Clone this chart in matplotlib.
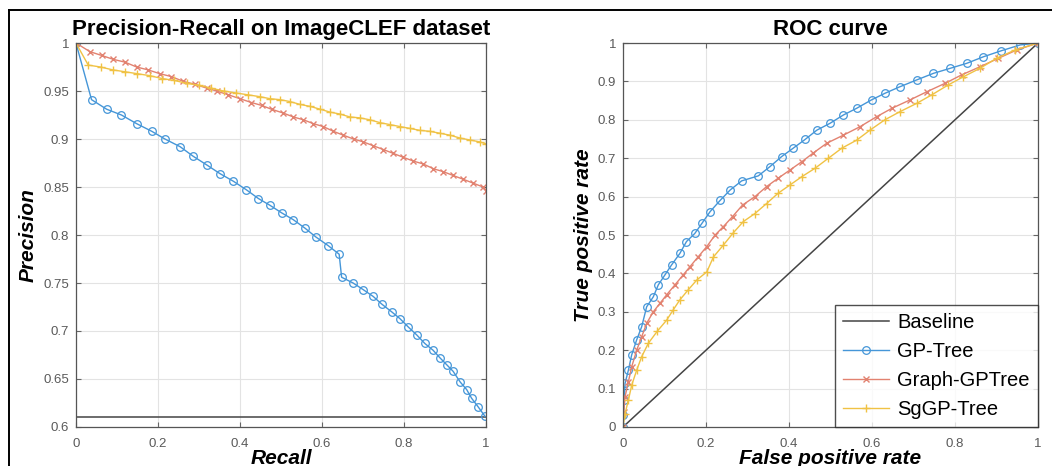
import matplotlib
matplotlib.use("Agg")
from matplotlib import pyplot
from matplotlib.lines import Line2D
from matplotlib.ticker import FormatStrFormatter
import numpy as np

pyplot.rcParams['font.family'] = ['Liberation Sans', 'DejaVu Sans']

blue = "#4596d8"
red = "#e28270"
yellow = "#f0c244"
tick_grey = "#5a5a5a"

# ---- Precision-Recall data ----
pr_base_r = [0.0, 1.0]
pr_base_p = [0.61, 0.61]

pr_gp_r = [0, 0.038, 0.075, 0.111, 0.148, 0.185, 0.217, 0.254, 0.286, 0.319,
           0.351, 0.384, 0.416, 0.445, 0.473, 0.502, 0.530, 0.559, 0.585, 0.615,
           0.642, 0.648, 0.676, 0.701, 0.725, 0.746, 0.770, 0.790, 0.811, 0.831,
           0.851, 0.871, 0.888, 0.904, 0.920, 0.937, 0.953, 0.965, 0.981, 0.998]
pr_gp_p = [1.0, 0.941, 0.931, 0.925, 0.916, 0.908, 0.900, 0.892, 0.882, 0.873,
           0.864, 0.856, 0.847, 0.838, 0.831, 0.823, 0.816, 0.807, 0.798, 0.789,
           0.780, 0.756, 0.750, 0.743, 0.736, 0.728, 0.720, 0.713, 0.704, 0.696,
           0.687, 0.680, 0.672, 0.665, 0.658, 0.647, 0.639, 0.630, 0.621, 0.611]

pr_graph_r = [0, 0.034, 0.063, 0.091, 0.120, 0.148, 0.176, 0.205, 0.233, 0.262,
              0.290, 0.319, 0.343, 0.372, 0.400, 0.428, 0.453, 0.477, 0.506, 0.530,
              0.555, 0.579, 0.603, 0.628, 0.652, 0.677, 0.701, 0.725, 0.750, 0.774,
              0.798, 0.823, 0.847, 0.872, 0.896, 0.920, 0.945, 0.969, 0.993, 1.0]
pr_graph_p = [1.0, 0.991, 0.987, 0.983, 0.980, 0.975, 0.972, 0.968, 0.965, 0.960,
              0.957, 0.953, 0.950, 0.946, 0.942, 0.938, 0.935, 0.931, 0.927, 0.923,
              0.920, 0.916, 0.913, 0.908, 0.904, 0.900, 0.897, 0.893, 0.889, 0.885,
              0.881, 0.877, 0.874, 0.869, 0.866, 0.862, 0.858, 0.854, 0.850, 0.846]

pr_sg_r = [0, 0.03, 0.06, 0.09, 0.12, 0.15, 0.18, 0.21, 0.24, 0.27,
           0.30, 0.33, 0.36, 0.39, 0.42, 0.45, 0.473, 0.498, 0.522, 0.547,
           0.571, 0.596, 0.620, 0.644, 0.668, 0.693, 0.717, 0.742, 0.766, 0.790,
           0.815, 0.839, 0.863, 0.888, 0.912, 0.937, 0.961, 0.985, 1.0]
pr_sg_p = [1.0, 0.977, 0.975, 0.972, 0.970, 0.968, 0.966, 0.963, 0.961, 0.958,
           0.956, 0.953, 0.950, 0.948, 0.946, 0.944, 0.942, 0.941, 0.939, 0.936,
           0.934, 0.931, 0.928, 0.926, 0.923, 0.922, 0.920, 0.917, 0.915, 0.913,
           0.911, 0.909, 0.908, 0.906, 0.904, 0.901, 0.899, 0.897, 0.895]

# ---- ROC data ----
roc_base_f = [0.0, 1.0]
roc_base_t = [0.0, 1.0]

roc_gp_f = [0, 0.001, 0.003, 0.005, 0.013, 0.021, 0.033, 0.045, 0.057, 0.073,
            0.085, 0.101, 0.117, 0.137, 0.153, 0.173, 0.190, 0.210, 0.234, 0.258,
            0.286, 0.326, 0.354, 0.382, 0.410, 0.439, 0.467, 0.499, 0.531, 0.563,
            0.599, 0.631, 0.667, 0.708, 0.748, 0.788, 0.828, 0.868, 0.912, 0.957, 1.0]
roc_gp_t = [0, 0.03, 0.07, 0.114, 0.148, 0.188, 0.227, 0.261, 0.313, 0.339,
            0.370, 0.396, 0.422, 0.452, 0.483, 0.504, 0.530, 0.561, 0.590, 0.617,
            0.641, 0.654, 0.678, 0.704, 0.726, 0.749, 0.773, 0.791, 0.8125, 0.830,
            0.852, 0.869, 0.886, 0.904, 0.921, 0.934, 0.947, 0.964, 0.980, 0.995, 1.0]

roc_graph_f = [0, 0.002, 0.005, 0.013, 0.021, 0.033, 0.045, 0.057, 0.073, 0.089,
               0.105, 0.125, 0.145, 0.161, 0.181, 0.202, 0.222, 0.242, 0.264, 0.288,
               0.318, 0.346, 0.374, 0.402, 0.431, 0.459, 0.491, 0.531, 0.571, 0.611,
               0.648, 0.692, 0.732, 0.776, 0.816, 0.860, 0.904, 0.949, 1.0]
roc_graph_t = [0, 0.04, 0.079, 0.118, 0.157, 0.2, 0.235, 0.270, 0.300, 0.322,
               0.344, 0.370, 0.396, 0.417, 0.443, 0.470, 0.5, 0.522, 0.548, 0.578,
               0.600, 0.626, 0.648, 0.669, 0.691, 0.714, 0.739, 0.760, 0.782, 0.808,
               0.830, 0.852, 0.873, 0.895, 0.917, 0.938, 0.960, 0.982, 1.0]

roc_sg_f = [0, 0.005, 0.013, 0.021, 0.033, 0.045, 0.061, 0.083, 0.105, 0.121,
            0.137, 0.157, 0.178, 0.202, 0.218, 0.242, 0.266, 0.290, 0.318, 0.346,
            0.374, 0.402, 0.431, 0.463, 0.495, 0.527, 0.563, 0.595, 0.631, 0.667,
            0.708, 0.744, 0.784, 0.820, 0.860, 0.900, 0.945, 1.0]
roc_sg_t = [0, 0.035, 0.07, 0.109, 0.148, 0.183, 0.218, 0.25, 0.278, 0.305,
            0.331, 0.357, 0.383, 0.404, 0.443, 0.474, 0.506, 0.535, 0.556, 0.582,
            0.609, 0.630, 0.652, 0.674, 0.700, 0.726, 0.747, 0.773, 0.8, 0.821,
            0.843, 0.865, 0.891, 0.912, 0.934, 0.960, 0.982, 1.0]

labels = ["Baseline", "GP-Tree", "Graph-GPTree", "SgGP-Tree"]


def style_axes(ax):
    ax.grid(True, color="#e3e3e3", linewidth=0.8)
    ax.set_axisbelow(True)
    for s in ax.spines.values():
        s.set_color("#555555")
        s.set_linewidth(0.9)
    ax.tick_params(direction="in", length=3.5, top=True, right=True,
                   labelsize=9.5, labelcolor=tick_grey, color="#666666")
    ax.tick_params(axis="x", pad=8)
    ax.tick_params(axis="y", pad=5)
    ax.yaxis.set_major_formatter(FormatStrFormatter("%g"))
    ax.xaxis.set_major_formatter(FormatStrFormatter("%g"))


def draw(ax, xs, ys):
    b, g, gg, sg = xs
    yb, yg, ygg, ysg = ys
    ax.plot(b, yb, color="#444444", linewidth=1.1, label=labels[0])
    ax.plot(g, yg, color=blue, linewidth=1.0, marker="o", markersize=5.5,
            markerfacecolor="none", markeredgewidth=0.9, label=labels[1])
    ax.plot(gg, ygg, color=red, linewidth=1.0, marker="x", markersize=5,
            markeredgewidth=1.0, label=labels[2])
    ax.plot(sg, ysg, color=yellow, linewidth=1.0, marker="+", markersize=6,
            markeredgewidth=1.0, label=labels[3])


fig = pyplot.figure(figsize=(10.52, 4.66), dpi=100)
ax1 = fig.add_axes([0.0722, 0.0837, 0.3897, 0.824])
ax2 = fig.add_axes([0.5922, 0.0837, 0.3945, 0.824])

draw(ax1, [pr_base_r, pr_gp_r, pr_graph_r, pr_sg_r],
     [pr_base_p, pr_gp_p, pr_graph_p, pr_sg_p])
ax1.set_xlim(0, 1)
ax1.set_ylim(0.6, 1)
ax1.set_xticks(np.arange(0, 1.01, 0.2))
ax1.set_yticks(np.arange(0.6, 1.001, 0.05))
style_axes(ax1)
ax1.set_title("Precision-Recall on ImageCLEF dataset", fontsize=16,
              fontweight="bold", pad=6)
ax1.set_xlabel("Recall", fontsize=15, fontweight="bold", style="italic", labelpad=-1)
ax1.set_ylabel("Precision", fontsize=15, fontweight="bold", style="italic", labelpad=4)

draw(ax2, [roc_base_f, roc_gp_f, roc_graph_f, roc_sg_f],
     [roc_base_t, roc_gp_t, roc_graph_t, roc_sg_t])
ax2.set_xlim(0, 1)
ax2.set_ylim(0, 1)
ax2.set_xticks(np.arange(0, 1.01, 0.2))
ax2.set_yticks(np.arange(0, 1.001, 0.1))
style_axes(ax2)
ax2.set_title("ROC curve", fontsize=16, fontweight="bold", pad=6)
ax2.set_xlabel("False positive rate", fontsize=15, fontweight="bold",
               style="italic", labelpad=-1)
ax2.set_ylabel("True positive rate", fontsize=15, fontweight="bold",
               style="italic", labelpad=3)
leg = ax2.legend(loc="lower right", fontsize=14.5, frameon=True, fancybox=False,
                 borderaxespad=0.0, handlelength=2.3, labelspacing=0.5,
                 handletextpad=0.4, borderpad=0.4)
leg.get_frame().set_edgecolor("#222222")
leg.get_frame().set_linewidth(1.0)

# outer frame lines seen in the reference crop
fig.add_artist(Line2D([9 / 1052, 1.0], [1 - 10 / 466, 1 - 10 / 466],
                      color="black", linewidth=1.4))
fig.add_artist(Line2D([9 / 1052, 9 / 1052], [0.0, 1 - 10 / 466],
                      color="black", linewidth=1.4))

pyplot.savefig("out.png", dpi=100)
